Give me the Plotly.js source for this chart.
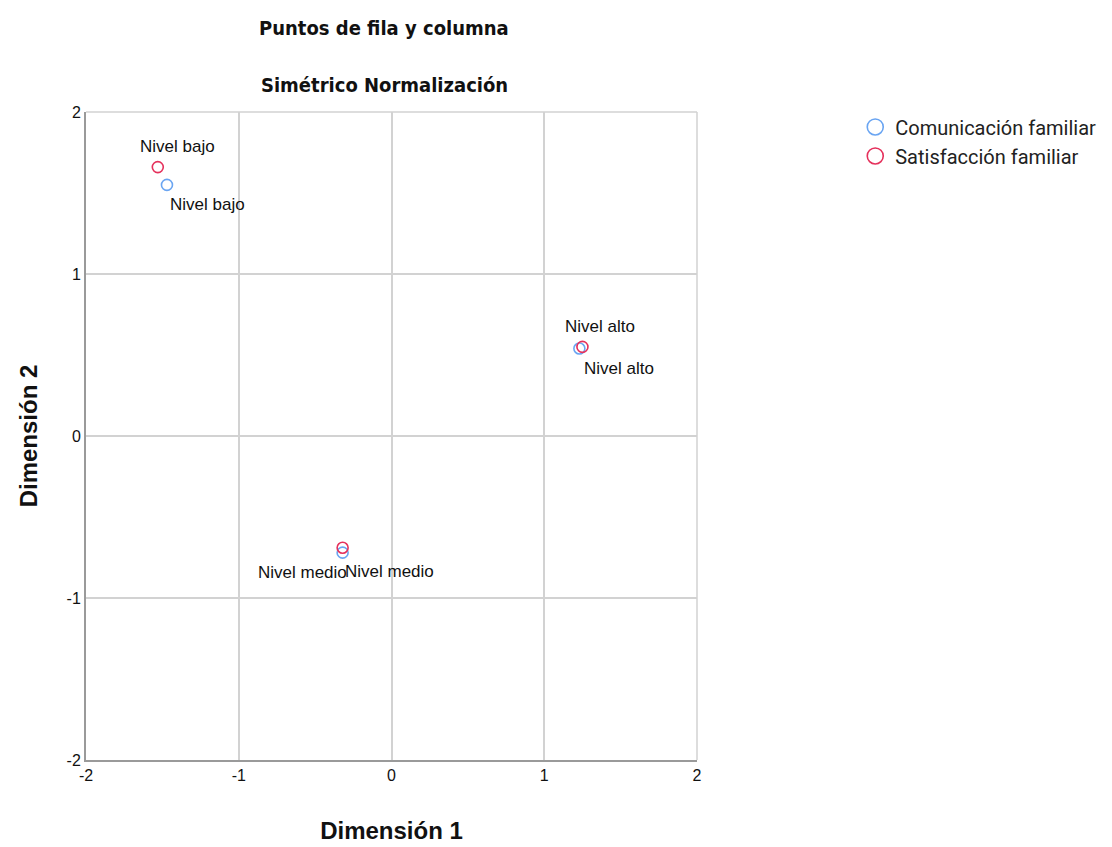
<!DOCTYPE html>
<html><head><meta charset="utf-8">
<script src="https://cdn.plot.ly/plotly-3.0.1.min.js"></script>
<style>body{margin:0;background:#fff}#chart{width:1112px;height:847px}</style>
</head><body><div id="chart"></div>
<script>
const categories = ['Nivel bajo', 'Nivel alto', 'Nivel medio'];
const comX = [-1.47, 1.23, -0.32];
const comY = [1.55, 0.54, -0.72];
const satX = [-1.53, 1.25, -0.32];
const satY = [1.66, 0.55, -0.69];
const tickVals = [-2, -1, 0, 1, 2];
const tickText = ['-2', '-1', '0', '1', '2'];
const seriesNames = ['Comunicación familiar', 'Satisfacción familiar'];
const titleLines = ['Puntos de fila y columna', 'Simétrico Normalización'];

// label offsets (pixels) – style, not data
const comShift = [[41, -20], [40, -20], [47, -19]];
const satShift = [[20, 21], [18, 20], [-40, -25]];
const BLUE = '#6aa5f2', RED = '#e5315c';

const mk = (xs, ys, color, name) => ({
  x: xs, y: ys, name: name, type: 'scatter', mode: 'markers', showlegend: false,
  marker: {symbol: 'circle-open', size: 11, color: color, line: {width: 1.6}}, cliponaxis: false
});
const leg = (color, name) => ({
  x: [null], y: [null], name: name, type: 'scatter', mode: 'markers', showlegend: true,
  marker: {symbol: 'circle-open', size: 18, color: color, line: {width: 1.6}}
});
const traces = [mk(comX, comY, BLUE, seriesNames[0]), mk(satX, satY, RED, seriesNames[1]),
                leg(BLUE, seriesNames[0]), leg(RED, seriesNames[1])];

const labFont = {family: 'Liberation Sans, Arial', size: 17, color: '#111'};
const annotations = [];
categories.forEach((c, i) => {
  annotations.push({x: satX[i], y: satY[i], xref: 'x', yref: 'y', text: c, showarrow: false,
    xshift: satShift[i][0], yshift: satShift[i][1], font: labFont});
  annotations.push({x: comX[i], y: comY[i], xref: 'x', yref: 'y', text: c, showarrow: false,
    xshift: comShift[i][0], yshift: comShift[i][1], font: labFont});
});
const titleFont = {family: 'DejaVu Sans Condensed, Liberation Sans Narrow, Arial Narrow, Liberation Sans', size: 20, color: '#111', weight: 'bold'};
annotations.push({xref: 'paper', yref: 'paper', x: 0.488, y: 1, yshift: 98, text: titleLines[0], showarrow: false, font: titleFont});
annotations.push({xref: 'paper', yref: 'paper', x: 0.488, y: 1, yshift: 41, text: titleLines[1], showarrow: false, font: titleFont});

const layout = {
  width: 1112, height: 847,
  margin: {l: 86, r: 415, t: 112, b: 87, autoexpand: false},
  paper_bgcolor: '#fff', plot_bgcolor: '#fff',
  showlegend: true,
  xaxis: {range: [-2, 2], tickvals: tickVals, ticktext: tickText, showgrid: true, gridcolor: '#d2d2d2', gridwidth: 1.5,
          zeroline: false, showline: true, linecolor: '#9a9a9a', linewidth: 2,
          ticks: '', tickfont: {family: 'Liberation Sans, Arial', size: 16, color: '#111'},
          title: {text: '<b>Dimensión 1</b>', standoff: 39, font: {family: 'Liberation Sans, Arial', size: 24, color: '#111'}}},
  yaxis: {range: [-2, 2], tickvals: tickVals, ticktext: tickText, showgrid: true, gridcolor: '#d2d2d2', gridwidth: 1.5,
          zeroline: false, showline: true, linecolor: '#9a9a9a', linewidth: 2,
          ticks: '', tickfont: {family: 'Liberation Sans, Arial', size: 16, color: '#111'},
          title: {text: '<b>Dimensión 2</b>', standoff: 22, font: {family: 'Liberation Sans, Arial', size: 24, color: '#111'}}},
  shapes: [
    {type: 'line', xref: 'paper', yref: 'paper', x0: 0, x1: 1, y0: 1, y1: 1, line: {color: '#d2d2d2', width: 1.5}},
    {type: 'line', xref: 'paper', yref: 'paper', x0: 1, x1: 1, y0: 0, y1: 1, line: {color: '#d2d2d2', width: 1.5}}
  ],
  annotations: annotations,
  legend: {x: 1.259, xanchor: 'left', y: 1.007, yanchor: 'top', bgcolor: 'rgba(0,0,0,0)',
           font: {family: 'Roboto, Liberation Sans', size: 20, color: '#222'}, itemwidth: 30,
           tracegroupgap: 0}
};
Plotly.newPlot('chart', traces, layout, {displayModeBar: false});
</script></body></html>
